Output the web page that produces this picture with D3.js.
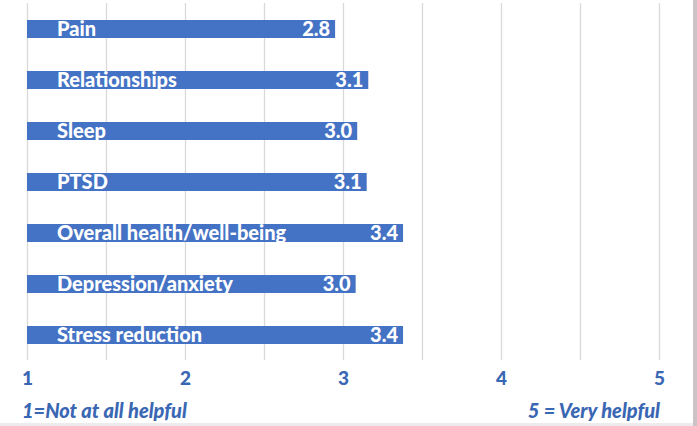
<!DOCTYPE html>
<html>
<head>
<meta charset="utf-8">
<script src="https://cdn.jsdelivr.net/npm/d3@7"></script>
<style>
  html, body { margin: 0; padding: 0; background: #fff; }
  svg { display: block; }
</style>
</head>
<body>
<svg id="chart" width="697" height="426"></svg>
<script>
// Categories (top to bottom)
const categories = ["Pain", "Relationships", "Sleep", "PTSD", "Overall health/well-being", "Depression/anxiety", "Stress reduction"];
// Bar lengths as drawn in the picture (1–5 scale)
const values = [2.95, 3.16, 3.09, 3.15, 3.38, 3.08, 3.38];
// Value labels as printed on the bars
const valueLabels = ["2.8", "3.1", "3.0", "3.1", "3.4", "3.0", "3.4"];
// Axis
const tickValues = [1, 2, 3, 4, 5];
const gridValues = [1, 1.5, 2, 2.5, 3, 3.5, 4, 4.5, 5];
const footLeft = "1=Not at all helpful";
const footRight = "5 = Very helpful";

const barColor = "#4472c4";
const textBlue = "#3a67b3";
const font = "Lato, 'Open Sans', sans-serif";

const svg = d3.select("#chart");

const x = d3.scaleLinear().domain([1, 5]).range([27, 659]);
const y = d3.scaleBand().domain(categories).range([3.5, 360.5]).paddingInner(0.647).paddingOuter(0.3235);

// right / bottom frame edges
svg.append("rect").attr("x", 693).attr("y", 0).attr("width", 4).attr("height", 426).attr("fill", "#cbc3c7");
svg.append("rect").attr("x", 0).attr("y", 423).attr("width", 693).attr("height", 3).attr("fill", "#ececec");

// gridlines
svg.append("g").selectAll("line").data(gridValues).join("line")
  .attr("x1", d => Math.round(x(d)) + 0.5).attr("x2", d => Math.round(x(d)) + 0.5)
  .attr("y1", 3).attr("y2", 360)
  .attr("stroke", "#d9d9d9").attr("stroke-width", 1.3);

// bars
svg.append("g").selectAll("rect").data(categories).join("rect")
  .attr("x", x(1))
  .attr("y", d => y(d))
  .attr("width", (d, i) => x(values[i]) - x(1))
  .attr("height", y.bandwidth())
  .attr("fill", barColor);

// category labels
svg.append("g").selectAll("text").data(categories).join("text")
  .attr("x", 57)
  .attr("y", d => y(d) + y.bandwidth() / 2)
  .attr("dy", "0.36em")
  .attr("fill", "#fff")
  .attr("font-family", font)
  .attr("font-weight", 900)
  .attr("font-size", 20)
  .text(d => d);

// value labels
svg.append("g").selectAll("text").data(categories).join("text")
  .attr("x", (d, i) => x(values[i]) - 5)
  .attr("y", d => y(d) + y.bandwidth() / 2)
  .attr("dy", "0.36em")
  .attr("text-anchor", "end")
  .attr("fill", "#fff")
  .attr("font-family", font)
  .attr("font-weight", 900)
  .attr("font-size", 20)
  .text((d, i) => valueLabels[i]);

// x axis tick labels
const axis = d3.axisBottom(x).tickValues(tickValues).tickSize(0).tickPadding(0).tickFormat(d3.format("d"));
const gAxis = svg.append("g").attr("transform", "translate(0,370)").call(axis);
gAxis.select(".domain").remove();
gAxis.selectAll("text")
  .attr("fill", textBlue)
  .attr("font-family", font)
  .attr("font-weight", 900)
  .attr("font-size", 19)
  .attr("dy", "0.71em")
  .attr("y", 1);

// footnotes
svg.append("text").attr("x", 22).attr("y", 418)
  .attr("fill", textBlue).attr("font-family", font).attr("font-weight", 900)
  .attr("font-style", "italic").attr("font-size", 20).text(footLeft);
svg.append("text").attr("x", 660).attr("y", 418).attr("text-anchor", "end")
  .attr("fill", textBlue).attr("font-family", font).attr("font-weight", 900)
  .attr("font-style", "italic").attr("font-size", 20).text(footRight);
</script>
</body>
</html>
